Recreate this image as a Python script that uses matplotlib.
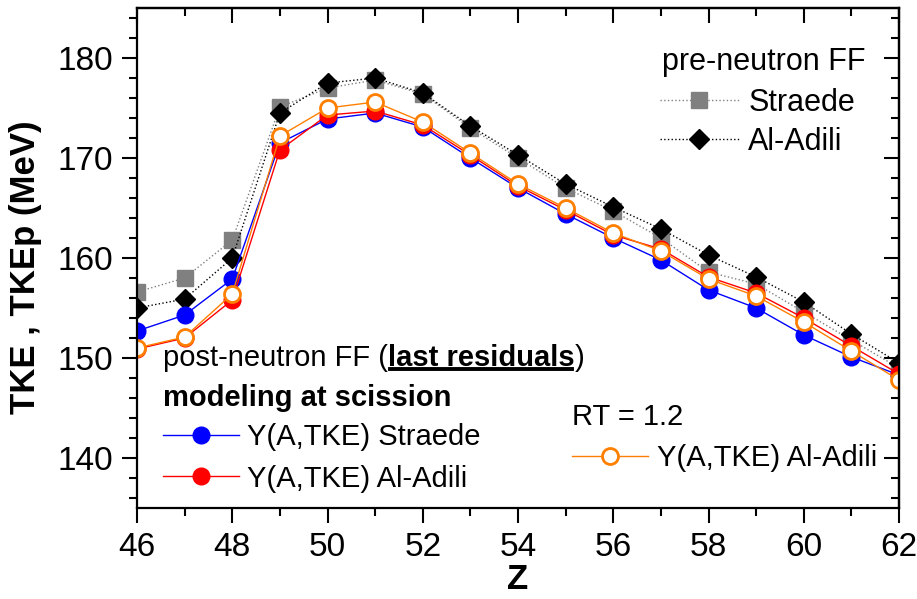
import matplotlib
matplotlib.use('Agg')
import matplotlib.pyplot as plt
from matplotlib.ticker import MultipleLocator
from matplotlib.lines import Line2D
import numpy as np

plt.rcParams['font.family'] = ['Liberation Sans', 'DejaVu Sans']

# charge number of the fragments
z = np.arange(46, 63)

# pre-neutron TKE
straede_pre = [156.6, 158.0, 161.8, 175.1, 177.0, 177.8, 176.4, 173.0, 170.0, 167.0,
               164.7, 162.0, 158.6, 157.4, 154.6, 151.8, 149.0]
aladili_pre = [155.0, 155.9, 160.0, 174.5, 177.5, 178.0, 176.5, 173.2, 170.3, 167.4,
               165.1, 162.9, 160.3, 158.1, 155.6, 152.4, 149.5]

# post-neutron TKEp (modeling at scission)
straede_post = [152.7, 154.3, 157.9, 171.5, 173.9, 174.5, 173.1, 170.0, 167.0, 164.4,
                162.0, 159.8, 156.8, 155.0, 152.3, 150.1, 148.3]
aladili_post = [150.9, 152.0, 155.8, 170.8, 174.3, 174.7, 173.3, 170.3, 167.2, 164.8,
                162.3, 160.9, 158.1, 156.5, 154.0, 151.2, 148.4]
aladili_rt12 = [151.0, 152.1, 156.4, 172.2, 175.0, 175.6, 173.6, 170.5, 167.4, 165.0,
                162.5, 160.7, 157.9, 156.2, 153.6, 150.7, 147.8]

orange = '#ff7f00'
fs = 22      # upper legend
fs_lo = 21   # lower legends

fig = plt.figure(figsize=(9.17, 5.99), dpi=100)
ax = fig.add_axes([0.1494, 0.1519, 0.831, 0.8347])

l_sp, = ax.plot(z, straede_pre, ls=':', lw=1, color='gray', marker='s', ms=11,
                mfc='gray', mec='gray', label='Straede')
l_ap, = ax.plot(z, aladili_pre, ls=':', lw=1, color='black', marker='D', ms=10.5,
                mfc='black', mec='black', label='Al-Adili')
l_s, = ax.plot(z, straede_post, ls='-', lw=1, color='blue', marker='o', ms=12,
               mfc='blue', mec='blue', label='Y(A,TKE) Straede')
l_a, = ax.plot(z, aladili_post, ls='-', lw=1, color='red', marker='o', ms=12,
               mfc='red', mec='red', label='Y(A,TKE) Al-Adili')
l_rt, = ax.plot(z, aladili_rt12, ls='-', lw=1, color=orange, marker='o', ms=11.5,
                mfc='white', mec=orange, mew=2, label='Y(A,TKE) Al-Adili')

ax.set_xlim(46, 62)
ax.set_ylim(135, 185)
ax.xaxis.set_major_locator(MultipleLocator(2))
ax.xaxis.set_minor_locator(MultipleLocator(1))
ax.yaxis.set_major_locator(MultipleLocator(10))
ax.yaxis.set_minor_locator(MultipleLocator(2))
ax.set_yticks([140, 150, 160, 170, 180])

for s in ax.spines.values():
    s.set_linewidth(1.6)
ax.tick_params(which='both', direction='out', width=1.5, labelsize=24, top=False, right=False)
ax.tick_params(which='major', length=11, pad=6)
ax.tick_params(which='minor', length=5.5)

# inward ticks on top and right
top = ax.secondary_xaxis('top')
top.xaxis.set_major_locator(MultipleLocator(2))
top.xaxis.set_minor_locator(MultipleLocator(1))
top.tick_params(which='both', direction='in', width=1.5, labeltop=False)
top.tick_params(which='major', length=11)
top.tick_params(which='minor', length=6)
right = ax.secondary_yaxis('right')
right.yaxis.set_major_locator(MultipleLocator(10))
right.yaxis.set_minor_locator(MultipleLocator(2))
right.tick_params(which='both', direction='in', width=1.5, labelright=False)
right.tick_params(which='major', length=11)
right.tick_params(which='minor', length=6)
for sec in (top, right):
    for s in sec.spines.values():
        s.set_linewidth(1.6)

ax.set_xlabel('Z', fontsize=25, fontweight='bold', labelpad=0)
ax.set_ylabel('TKE , TKEp (MeV)', fontsize=25, fontweight='bold')
ax.yaxis.set_label_coords(-0.125, 0.482)

leg_kw = dict(frameon=False, loc='center left', borderpad=0, borderaxespad=0,
              handlelength=2.6, handletextpad=0.3, labelspacing=0.3, numpoints=1)

# pre-neutron legend
ax.text(0.689, 0.892, 'pre-neutron FF', transform=ax.transAxes, fontsize=fs,
        ha='left', va='center')
leg1 = ax.legend(handles=[l_sp, l_ap], bbox_to_anchor=(0.686, 0.771), fontsize=fs, **leg_kw)
ax.add_artist(leg1)

# post-neutron legend
t1 = ax.text(0.034, 0.300, 'post-neutron FF (', transform=ax.transAxes, fontsize=fs_lo,
             ha='left', va='center')
t2 = ax.annotate('last residuals', xy=(1, 0), xycoords=t1, fontsize=fs_lo,
                 fontweight='bold', ha='left', va='bottom')
t3 = ax.annotate(')', xy=(1, 0), xycoords=t2, fontsize=fs_lo, ha='left', va='bottom')
ax.text(0.034, 0.220, 'modeling at scission', transform=ax.transAxes, fontsize=fs_lo,
        fontweight='bold', ha='left', va='center')
leg2 = ax.legend(handles=[l_s, l_a], bbox_to_anchor=(0.034, 0.100), fontsize=fs_lo,
                 **dict(leg_kw, labelspacing=0.45))
ax.add_artist(leg2)

# RT = 1.2 legend
ax.text(0.571, 0.182, 'RT = 1.2', transform=ax.transAxes, fontsize=fs_lo,
        ha='left', va='center')
ax.legend(handles=[l_rt], bbox_to_anchor=(0.571, 0.100), fontsize=fs_lo, **leg_kw)

# underline under the bold words
fig.canvas.draw()
bb = t2.get_window_extent().transformed(fig.transFigure.inverted())
uy = bb.y0 + 0.1 * bb.height
fig.add_artist(Line2D([bb.x0 + 0.002, bb.x1 - 0.003], [uy, uy], color='black', lw=2.8,
                      transform=fig.transFigure))

fig.savefig('out.png', dpi=100)
